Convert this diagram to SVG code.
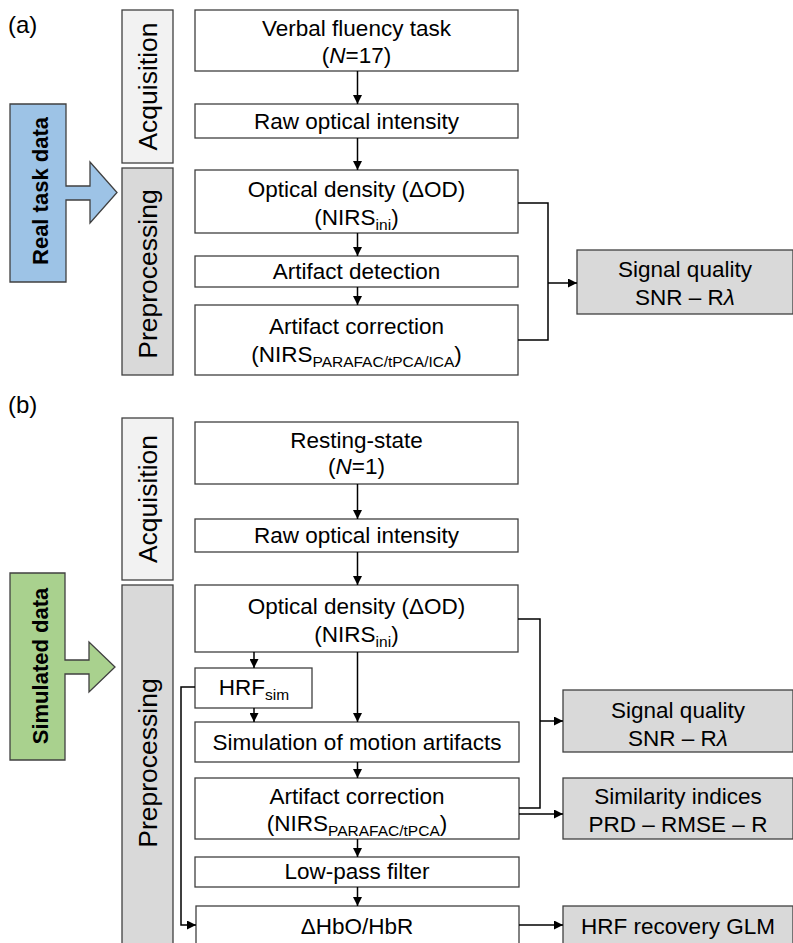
<svg xmlns="http://www.w3.org/2000/svg" width="793" height="943" viewBox="0 0 793 943">
<style>
text{font-family:"Liberation Sans",Arial,sans-serif;fill:#000;text-anchor:middle}
.t{font-size:22.5px}
.side{font-size:26.5px}
.lab{font-size:24px;text-anchor:start}
.bold{font-size:22px;font-weight:bold}
.box{fill:#fff;stroke:#404040;stroke-width:1.3}
.gbox{fill:#d9d9d9;stroke:#404040;stroke-width:1.3}
.abox{fill:#f2f2f2;stroke:#404040;stroke-width:1.3}
.sub{font-size:15.5px}
.c{fill:none;stroke:#000;stroke-width:1.5}
</style>
<defs>
<marker id="ah" viewBox="0 0 10 10" refX="10" refY="5" markerWidth="6" markerHeight="6" orient="auto" markerUnits="strokeWidth"><path d="M0,0L10,5L0,10z" fill="#000"/></marker>
</defs>

<text class="lab" x="8" y="33">(a)</text>
<text class="lab" x="8" y="413">(b)</text>

<g id="a-acq"><rect class="abox" x="122" y="10" width="51" height="153"/><text class="side" transform="translate(157,86.5) rotate(-90)">Acquisition</text></g>
<g id="a-pre"><rect class="gbox" x="122" y="168" width="51" height="207"/><text class="side" transform="translate(157,274) rotate(-90)">Preprocessing</text></g>
<g id="a-real"><polygon points="10,104 66,104 66,186 90,186 90,162 117,192.5 90,223 90,200 66,200 66,282 10,282" fill="#9dc3e6" stroke="#404040" stroke-width="1.3"/><text class="bold" transform="translate(48,191) rotate(-90)">Real task data</text></g>

<g id="a-verbal"><rect class="box" x="195" y="10" width="323" height="61"/><text class="t" x="356.5" y="36">Verbal fluency task</text><text class="t" x="356.5" y="63">(<tspan font-style="italic">N</tspan>=17)</text></g>
<g id="a-raw"><rect class="box" x="195" y="104" width="323" height="34"/><text class="t" x="356.5" y="129">Raw optical intensity</text></g>
<g id="a-od"><rect class="box" x="195" y="170" width="323" height="63"/><text class="t" x="356.5" y="197">Optical density (ΔOD)</text><text class="t" x="356.5" y="225">(NIRS<tspan class="sub" dy="5">ini</tspan><tspan dy="-5">)</tspan></text></g>
<g id="a-det"><rect class="box" x="195" y="256" width="323" height="31"/><text class="t" x="356.5" y="279">Artifact detection</text></g>
<g id="a-corr"><rect class="box" x="195" y="305" width="323" height="70"/><text class="t" x="356.5" y="334">Artifact correction</text><text class="t" x="356.5" y="362">(NIRS<tspan class="sub" dy="5">PARAFAC/tPCA/ICA</tspan><tspan dy="-5">)</tspan></text></g>
<g id="a-sq"><rect class="gbox" x="577" y="250" width="216" height="64"/><text class="t" x="685" y="277">Signal quality</text><text class="t" x="685" y="305">SNR – R<tspan font-style="italic">λ</tspan></text></g>

<g id="b-acq"><rect class="abox" x="122" y="418" width="51" height="162"/><text class="side" transform="translate(157,499) rotate(-90)">Acquisition</text></g>
<g id="b-pre"><rect class="gbox" x="122" y="585" width="51" height="370"/><text class="side" transform="translate(157,763) rotate(-90)">Preprocessing</text></g>
<g id="b-sim"><polygon points="10,573 65,573 65,660 89,660 89,642 115,667 89,692 89,674 65,674 65,760 10,760" fill="#a9d18e" stroke="#404040" stroke-width="1.3"/><text class="bold" transform="translate(48,666) rotate(-90)">Simulated data</text></g>

<g id="b-rest"><rect class="box" x="195" y="422" width="323" height="62"/><text class="t" x="356.5" y="448">Resting-state</text><text class="t" x="356.5" y="474">(<tspan font-style="italic">N</tspan>=1)</text></g>
<g id="b-raw"><rect class="box" x="195" y="519" width="323" height="33"/><text class="t" x="356.5" y="543">Raw optical intensity</text></g>
<g id="b-od"><rect class="box" x="195" y="585" width="323" height="67"/><text class="t" x="356.5" y="614">Optical density (ΔOD)</text><text class="t" x="356.5" y="642">(NIRS<tspan class="sub" dy="5">ini</tspan><tspan dy="-5">)</tspan></text></g>
<g id="b-hrf"><rect class="box" x="195" y="668" width="117" height="40"/><text class="t" x="254" y="695">HRF<tspan class="sub" dy="5">sim</tspan></text></g>
<g id="b-motion"><rect class="box" x="195" y="722" width="324" height="40"/><text class="t" x="357" y="750">Simulation of motion artifacts</text></g>
<g id="b-corr"><rect class="box" x="195" y="778" width="324" height="61"/><text class="t" x="357" y="804">Artifact correction</text><text class="t" x="357" y="831">(NIRS<tspan class="sub" dy="5">PARAFAC/tPCA</tspan><tspan dy="-5">)</tspan></text></g>
<g id="b-lpf"><rect class="box" x="195" y="857" width="324" height="30"/><text class="t" x="357" y="879">Low-pass filter</text></g>
<g id="b-hbo"><rect class="box" x="196" y="906" width="323" height="50"/><text class="t" x="357" y="934">ΔHbO/HbR</text></g>
<g id="b-sq"><rect class="gbox" x="563" y="690" width="230" height="62"/><text class="t" x="678" y="718">Signal quality</text><text class="t" x="678" y="746">SNR – R<tspan font-style="italic">λ</tspan></text></g>
<g id="b-si"><rect class="gbox" x="563" y="778" width="230" height="61"/><text class="t" x="678" y="804">Similarity indices</text><text class="t" x="678" y="832">PRD – RMSE – R</text></g>
<g id="b-glm"><rect class="gbox" x="563" y="906" width="230" height="50"/><text class="t" x="678" y="934">HRF recovery GLM</text></g>

<g id="connectors">
<path class="c" d="M357.5,71V104" marker-end="url(#ah)"/>
<path class="c" d="M357.5,138V170" marker-end="url(#ah)"/>
<path class="c" d="M357.5,233V256" marker-end="url(#ah)"/>
<path class="c" d="M357.5,287V305" marker-end="url(#ah)"/>
<path class="c" d="M518,203H548V340H518"/>
<path class="c" d="M548,283H577" marker-end="url(#ah)"/>

<path class="c" d="M357.5,484V519" marker-end="url(#ah)"/>
<path class="c" d="M357.5,552V585" marker-end="url(#ah)"/>
<path class="c" d="M254,652V668" marker-end="url(#ah)"/>
<path class="c" d="M357.5,652V722" marker-end="url(#ah)"/>
<path class="c" d="M254,708V722" marker-end="url(#ah)"/>
<path class="c" d="M357.5,762V778" marker-end="url(#ah)"/>
<path class="c" d="M357.5,839V857" marker-end="url(#ah)"/>
<path class="c" d="M357.5,887V906" marker-end="url(#ah)"/>
<path class="c" d="M195,687H181V925H196" marker-end="url(#ah)"/>
<path class="c" d="M518,619H540V808H519"/>
<path class="c" d="M540,721H563" marker-end="url(#ah)"/>
<path class="c" d="M519,814H563" marker-end="url(#ah)"/>
<path class="c" d="M519,925H563" marker-end="url(#ah)"/>
</g>
</svg>
